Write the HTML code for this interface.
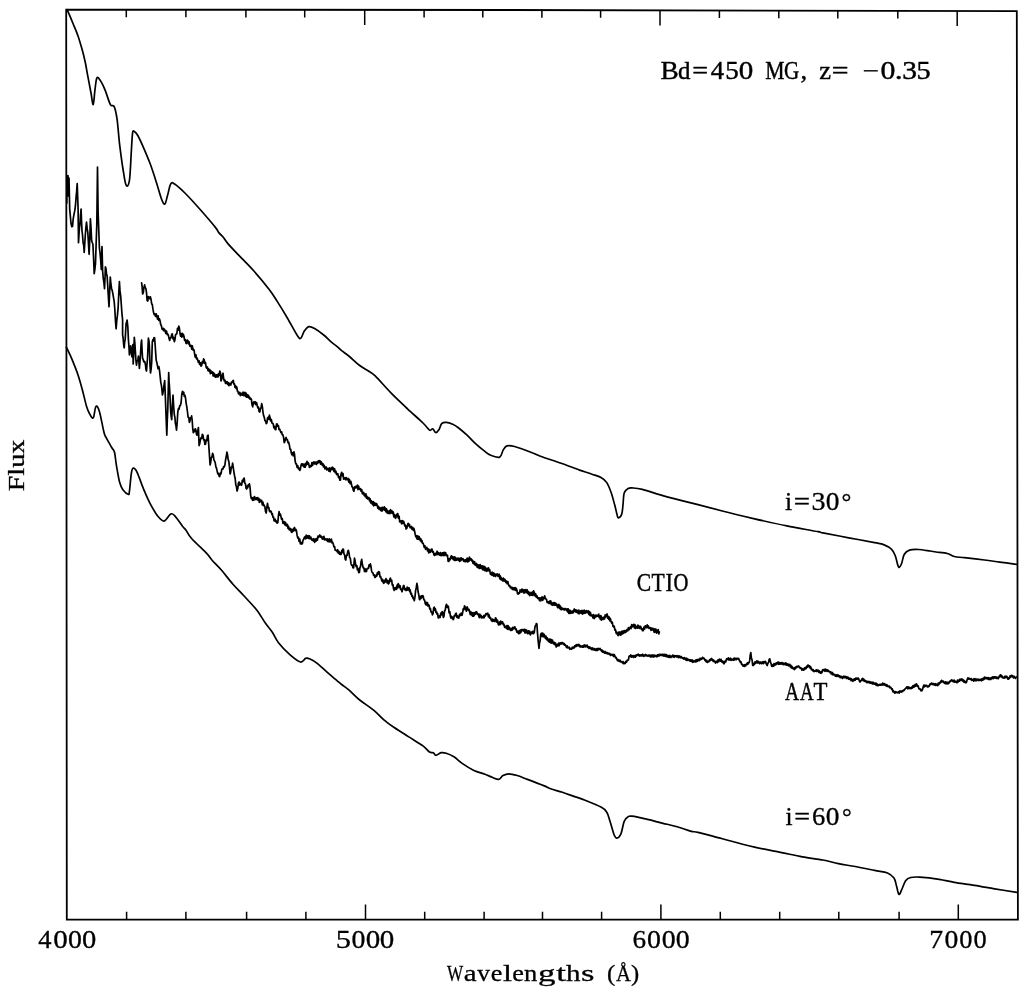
<!DOCTYPE html><html><head><meta charset="utf-8"><style>html,body{margin:0;padding:0;background:#fff;}svg{display:block;will-change:transform;}text{font-family:"Liberation Serif",serif;fill:#000;stroke:#000;}</style></head><body>
<svg width="1024" height="991" viewBox="0 0 1024 991">
<polygon points="66.2,9.6 508.0,10.0 1016.8,11.2 1017.9,919.5 66.8,919.6" fill="none" stroke="#000" stroke-width="1.8" stroke-linejoin="miter"/>
<path d="M126.6 919.6V911.8M185.9 919.6V911.8M246.6 919.6V911.8M305.9 919.6V911.8M365.5 919.6V904.4M424.7 919.6V911.8M484.1 919.6V911.8M542.5 919.6V911.8M601.6 919.6V911.8M660.9 919.6V904.4M720.3 919.6V911.8M779.7 919.6V911.8M838.8 919.6V911.8M899.1 919.6V911.8M958.3 919.6V904.4M126.3 9.7V17.3M185.9 9.7V17.3M245.9 9.8V17.4M304.7 9.8V17.4M364.7 9.9V24.9M424.1 9.9V17.5M482.8 10.0V17.6M541.9 10.1V17.7M600.6 10.2V17.8M660.0 10.4V25.4M719.4 10.5V18.1M778.8 10.6V18.2M837.8 10.8V18.4M897.8 10.9V18.5M957.2 11.1V26.1" stroke="#000" stroke-width="1.5" fill="none"/>
<path d="M67.1 9.7C68.1 11.9 71.1 18.8 72.9 23.2C74.7 27.6 76.6 31.9 78.1 36.2C79.6 40.5 80.8 44.8 82.0 49.1C83.2 53.4 84.2 57.5 85.2 62.0C86.2 66.5 86.8 71.0 87.8 76.2C88.8 81.4 90.1 88.3 91.0 93.0C91.9 97.7 92.5 105.0 93.2 104.6C93.9 104.2 94.3 94.8 94.9 90.4C95.5 86.0 96.0 79.8 96.8 78.1C97.6 76.4 98.6 78.0 100.0 80.1C101.4 82.1 103.5 86.3 105.2 90.4C106.9 94.5 108.9 101.9 110.4 104.6C111.9 107.3 113.1 104.1 114.2 106.6C115.3 109.1 116.2 113.0 117.1 119.4C118.0 125.8 118.7 137.0 119.7 145.2C120.7 153.4 121.8 161.8 122.9 168.5C124.0 175.2 125.0 183.2 126.1 185.2C127.2 187.2 128.5 186.3 129.4 180.7C130.3 175.1 130.8 159.7 131.3 151.7C131.8 143.7 132.1 136.2 132.6 132.9C133.1 129.6 133.6 131.2 134.5 131.6C135.4 132.0 136.3 132.8 137.8 135.5C139.3 138.2 141.6 143.2 143.6 147.8C145.6 152.4 147.8 157.5 150.0 163.3C152.2 169.1 154.6 176.7 156.5 182.7C158.4 188.7 160.3 195.9 161.7 199.5C163.1 203.1 163.9 204.7 164.9 204.0C165.9 203.3 166.5 198.9 167.5 195.6C168.5 192.3 169.5 185.9 170.7 184.0C171.9 182.1 172.2 182.5 174.6 184.0C177.0 185.5 180.6 188.7 184.9 193.0C189.2 197.3 195.4 204.1 200.4 209.8C205.4 215.5 212.1 223.2 215.2 227.1C218.3 230.9 217.7 231.3 219.0 232.9C220.3 234.5 221.4 235.0 222.9 236.8C224.4 238.6 225.5 240.9 228.1 243.9C230.7 246.9 234.1 250.4 238.4 254.9C242.7 259.4 248.7 265.2 253.9 271.0C259.1 276.8 265.5 284.6 269.4 289.7C273.3 294.8 274.2 296.6 277.2 301.4C280.2 306.1 284.1 312.4 287.5 318.2C290.9 324.0 295.5 333.0 297.8 336.3C300.1 339.6 300.0 338.7 301.1 337.8C302.2 336.9 303.0 333.0 304.3 331.1C305.6 329.2 307.1 327.0 308.8 326.6C310.5 326.2 312.1 327.1 314.6 328.5C317.1 329.9 320.9 332.7 323.7 335.0C326.5 337.3 329.1 340.2 331.4 342.1C333.6 344.0 335.5 345.2 337.2 346.6C338.9 348.0 339.6 349.1 341.6 350.7C343.6 352.3 346.4 354.0 349.4 356.5C352.4 359.0 356.5 363.0 359.7 365.5C362.9 368.0 366.2 369.6 368.8 371.3C371.4 373.0 371.6 372.3 375.2 375.9C378.8 379.4 385.3 387.1 390.7 392.6C396.1 398.1 402.1 403.7 407.5 408.8C412.9 413.9 419.3 419.4 423.0 423.0C426.7 426.6 427.9 429.1 429.5 430.1C431.1 431.1 431.6 428.4 432.7 428.8C433.8 429.2 434.8 432.6 435.9 432.7C437.0 432.8 438.1 431.0 439.1 429.5C440.1 428.0 440.5 424.8 441.7 423.6C442.9 422.4 444.4 422.3 446.2 422.4C448.0 422.5 450.7 423.4 452.7 424.3C454.7 425.2 455.6 425.7 458.0 427.5C460.4 429.3 463.8 432.2 466.8 434.9C469.8 437.6 473.0 441.3 475.8 443.9C478.6 446.5 481.1 448.5 483.6 450.4C486.1 452.3 488.0 454.2 490.7 455.3C493.4 456.4 497.6 457.9 499.7 457.1C501.8 456.3 501.8 452.3 503.0 450.4C504.2 448.5 504.9 446.5 506.8 445.9C508.7 445.2 510.3 445.3 514.6 446.5C518.9 447.7 528.4 451.4 532.7 453.0C537.0 454.6 535.7 454.5 540.4 456.2C545.1 457.9 554.8 461.1 561.1 463.3C567.4 465.5 574.8 468.3 578.0 469.5C581.2 470.7 578.0 469.6 580.3 470.4C582.6 471.2 588.5 473.0 592.0 474.2C595.5 475.4 598.5 476.1 601.0 477.5C603.5 478.9 605.1 480.0 606.8 482.6C608.5 485.2 610.0 489.3 611.3 493.0C612.6 496.7 613.6 501.0 614.6 504.6C615.6 508.2 616.5 512.7 617.1 514.9C617.7 517.1 617.6 518.0 618.4 517.9C619.2 517.8 620.9 516.5 621.7 514.3C622.5 512.1 622.6 508.2 623.0 504.6C623.4 501.1 623.4 495.7 624.2 493.0C625.1 490.3 626.6 489.2 628.1 488.4C629.6 487.6 630.9 487.9 633.3 488.0C635.7 488.1 637.8 488.2 642.3 489.3C646.8 490.4 654.1 493.1 660.4 494.9C666.6 496.7 673.5 498.5 679.8 500.1C686.1 501.7 690.9 502.8 698.0 504.6C705.1 506.4 712.9 508.6 722.3 511.0C731.7 513.4 743.8 516.3 754.6 518.8C765.4 521.3 776.3 523.8 786.9 525.9C797.5 528.0 812.0 530.5 818.0 531.7C824.0 532.9 817.8 531.9 822.9 532.9C828.0 533.9 840.1 536.2 848.7 537.8C857.3 539.4 868.8 541.5 874.6 542.6C880.4 543.7 880.8 543.5 883.6 544.6C886.4 545.7 889.5 547.3 891.4 549.1C893.3 550.9 894.1 552.8 895.2 555.5C896.3 558.2 897.1 563.2 897.8 565.2C898.5 567.2 898.9 567.5 899.5 567.2C900.1 566.9 900.9 565.5 901.7 563.3C902.5 561.1 903.0 556.4 904.3 554.2C905.6 552.0 907.1 550.9 909.5 550.1C911.9 549.3 915.1 549.4 918.5 549.5C921.9 549.6 927.2 550.6 930.1 551.0C933.0 551.4 933.2 551.6 936.1 552.0C939.0 552.4 944.2 552.8 947.2 553.5C950.2 554.2 951.4 555.8 954.3 556.5C957.2 557.2 959.4 557.1 964.4 557.7C969.4 558.3 978.6 559.3 984.5 560.0C990.4 560.7 994.4 561.4 999.7 562.1C1005.0 562.8 1013.5 563.9 1016.3 564.3" fill="none" stroke="#000" stroke-width="1.7" stroke-linejoin="round" stroke-linecap="round"/>
<path d="M66.5 347.4C67.3 349.2 69.7 353.8 71.6 358.4C73.5 363.0 76.3 369.8 78.1 375.2C79.9 380.6 81.2 385.5 82.6 390.7C84.0 395.9 85.3 402.3 86.5 406.2C87.7 410.1 88.6 412.1 89.7 414.0C90.8 415.9 92.3 419.1 93.3 417.8C94.3 416.6 94.9 407.6 95.9 406.5C96.9 405.4 98.1 407.1 99.4 411.4C100.7 415.6 102.8 427.7 103.9 432.0C105.0 436.3 104.6 434.6 105.9 437.2C107.2 439.8 110.3 445.0 111.7 447.5C113.1 450.0 113.7 449.2 114.5 452.3C115.3 455.4 115.6 460.8 116.5 465.8C117.4 470.9 118.6 478.6 119.7 482.6C120.8 486.6 121.5 487.8 122.9 489.7C124.3 491.6 127.0 493.9 128.1 494.2C129.2 494.5 128.9 495.1 129.4 491.7C129.9 488.3 130.7 477.5 131.3 473.6C131.9 469.7 132.2 468.4 133.2 468.2C134.2 468.0 135.4 468.8 137.1 472.3C138.8 475.8 141.4 483.9 143.6 489.1C145.8 494.3 147.6 498.8 150.0 503.3C152.4 507.8 155.4 513.2 157.8 516.2C160.2 519.2 162.0 521.5 164.2 521.1C166.3 520.7 169.0 514.9 170.7 514.0C172.4 513.1 172.7 513.6 174.6 515.6C176.5 517.6 180.4 523.4 182.3 525.9C184.2 528.4 184.7 528.3 186.2 530.4C187.7 532.5 187.9 534.3 191.4 538.2C194.9 542.1 203.5 550.1 206.9 553.7C210.3 557.3 209.5 557.2 211.9 560.0C214.3 562.8 218.1 566.2 221.6 570.3C225.1 574.4 229.5 580.3 233.2 584.5C236.9 588.7 239.7 591.3 243.6 595.5C247.5 599.7 252.8 605.1 256.5 609.7C260.1 614.3 262.9 619.6 265.5 623.3C268.1 627.0 269.8 628.5 272.0 631.7C274.2 634.9 275.5 638.8 278.5 642.7C281.5 646.6 286.5 651.7 290.1 654.9C293.8 658.1 297.8 661.4 300.4 662.0C303.0 662.6 304.1 658.9 305.6 658.4C307.1 657.9 307.6 658.0 309.5 658.8C311.4 659.6 314.0 660.8 317.2 663.3C320.4 665.8 325.5 670.8 328.8 673.7C332.1 676.6 335.1 679.0 337.2 680.8C339.3 682.6 339.6 682.9 341.6 684.5C343.6 686.1 346.4 687.8 349.4 690.4C352.4 693.0 355.6 696.7 359.7 700.0C363.8 703.3 369.8 707.0 373.9 710.4C378.0 713.8 380.8 717.2 384.2 720.1C387.6 723.0 390.5 725.0 394.6 727.8C398.7 730.6 404.1 733.9 408.8 736.9C413.5 739.9 419.6 743.4 423.0 745.9C426.4 748.4 427.8 750.9 429.5 752.0C431.2 753.1 432.2 752.2 433.3 752.7C434.4 753.2 434.6 755.3 435.9 755.3C437.2 755.3 439.4 753.0 441.1 752.7C442.8 752.4 444.1 752.6 446.2 753.3C448.3 754.0 451.1 755.0 453.9 756.8C456.7 758.6 459.6 761.6 462.9 763.9C466.2 766.2 470.2 768.7 473.9 770.4C477.6 772.1 481.8 773.0 484.9 774.2C488.0 775.4 490.3 776.6 492.6 777.5C494.9 778.4 497.1 779.7 498.8 779.4C500.5 779.1 501.3 776.4 503.0 775.5C504.7 774.6 506.4 773.8 508.8 773.8C511.2 773.8 514.1 774.6 517.2 775.5C520.3 776.4 523.0 777.7 527.5 779.4C532.0 781.1 540.4 784.3 544.3 785.9C548.2 787.5 547.7 787.7 550.7 788.8C553.7 789.9 558.5 791.0 562.4 792.3C566.3 793.6 570.6 795.2 574.0 796.4C577.4 797.6 578.4 797.6 582.9 799.4C587.4 801.2 597.0 805.0 601.0 807.1C605.0 809.2 605.3 809.9 606.8 812.3C608.3 814.7 608.8 817.6 610.0 821.3C611.2 824.9 612.8 831.4 613.9 834.2C615.0 837.0 615.6 838.2 616.8 838.1C618.0 838.0 619.8 836.4 621.0 833.6C622.2 830.8 623.0 824.1 624.2 821.3C625.4 818.5 626.8 817.6 628.1 816.8C629.4 815.9 628.8 815.8 632.0 816.2C635.2 816.6 642.3 818.2 647.5 819.4C652.7 820.6 658.0 822.1 663.0 823.3C668.0 824.5 672.5 825.4 677.2 826.8C681.9 828.1 687.9 830.5 691.4 831.4C694.9 832.3 692.9 831.1 698.0 832.3C703.1 833.5 712.9 836.3 722.3 838.8C731.7 841.3 744.9 844.9 754.6 847.1C764.3 849.4 772.4 850.7 780.4 852.3C788.4 853.9 795.3 855.5 802.4 856.8C809.5 858.1 816.9 858.9 822.9 860.0C828.9 861.1 833.0 862.6 838.4 863.7C843.8 864.8 849.2 865.4 855.2 866.5C861.2 867.6 869.2 869.3 874.6 870.4C880.0 871.5 884.3 871.7 887.5 873.0C890.7 874.3 892.5 876.0 894.0 878.1C895.5 880.2 895.7 883.2 896.5 885.9C897.3 888.6 898.0 893.7 898.9 894.3C899.8 894.9 900.6 892.0 901.7 889.7C902.8 887.4 904.1 882.7 905.6 880.7C907.1 878.7 908.3 878.1 910.7 877.5C913.1 876.9 915.1 876.8 919.8 877.1C924.5 877.4 933.4 878.4 939.1 879.3C944.9 880.2 948.4 881.3 954.3 882.3C960.2 883.3 967.8 884.2 974.5 885.3C981.2 886.4 987.6 887.6 994.6 888.8C1001.6 890.0 1013.1 891.8 1016.8 892.4" fill="none" stroke="#000" stroke-width="1.7" stroke-linejoin="round" stroke-linecap="round"/>
<polyline points="66.8,203.0 67.0,176.0 67.6,196.0 68.0,175.5 68.6,196.0 69.0,178.0 69.3,192.3 69.7,209.1 70.3,215.6 71.0,223.3 71.8,226.7 72.5,226.5 73.2,218.8 74.0,214.3 74.8,210.6 75.5,205.2 76.1,196.8 76.6,191.9 77.2,183.5 78.1,209.1 78.5,242.7 79.0,234.2 79.4,228.5 80.0,223.7 80.5,215.0 81.1,209.1 81.5,220.5 82.0,231.0 82.5,234.6 83.1,242.8 83.7,245.4 84.2,252.4 84.7,244.8 85.3,235.4 85.8,228.5 86.5,222.0 87.2,228.7 87.8,232.3 88.4,242.5 89.1,254.3 89.8,238.5 90.4,218.8 91.0,227.6 91.6,240.1 92.2,242.5 92.9,244.0 93.6,258.4 94.2,273.7 94.8,269.8 95.5,263.3 96.2,242.0 96.8,224.6 97.5,167.0 98.1,211.7 98.8,230.8 99.4,247.8 100.0,252.6 100.7,260.3 101.3,269.4 102.0,246.5 102.6,270.7 103.2,277.8 103.9,282.3 104.5,288.7 105.0,278.5 105.4,266.8 106.0,268.7 106.5,274.0 107.1,275.8 107.7,285.4 108.4,297.2 109.0,306.8 109.7,291.2 110.3,277.1 110.9,284.0 111.6,288.7 112.2,290.4 112.9,293.9 113.6,298.2 114.2,301.7 114.8,309.0 115.5,321.1 116.1,328.8 116.8,320.5 117.4,315.7 118.1,308.1 118.8,292.9 119.4,281.6 120.0,290.9 120.7,296.1 121.3,304.2 121.9,313.0 122.6,320.0 122.6,334.9 123.1,337.6 123.7,345.0 124.2,347.8 124.7,341.7 125.2,339.4 126.1,323.2 126.6,322.7 127.1,320.0 127.8,326.5 128.4,339.4 129.0,347.1 129.4,354.9 130.1,348.6 130.7,345.8 131.3,352.8 132.0,356.8 132.4,349.8 132.9,344.5 133.2,363.9 133.8,352.0 134.3,337.4 134.9,343.7 135.5,353.6 136.0,361.2 136.5,365.2 137.1,361.0 137.8,360.5 138.4,356.2 138.9,361.8 139.4,368.4 140.1,360.5 140.7,351.0 141.1,343.8 141.6,340.0 142.1,350.5 142.6,358.8 143.1,359.0 143.7,361.7 144.2,361.3 144.8,361.7 145.5,365.2 146.0,369.6 146.5,371.0 147.0,363.9 147.5,358.8 147.9,349.6 148.4,338.1 148.9,340.7 149.4,345.8 150.0,365.2 150.5,373.0 151.1,369.1 151.7,362.0 152.3,342.0 152.9,339.7 153.4,340.9 154.0,337.7 154.6,337.8 155.2,345.8 155.7,353.4 156.2,360.1 156.8,362.5 157.5,365.9 158.1,368.7 158.8,366.5 159.4,369.7 160.2,376.8 160.8,382.6 161.5,385.8 161.9,389.3 162.4,394.9 162.9,393.3 163.4,390.4 164.1,384.3 164.7,380.7 165.3,395.5 166.1,417.3 166.8,435.2 167.3,420.0 167.8,408.1 168.7,372.6 169.1,381.9 169.6,388.7 170.1,398.6 170.7,412.0 171.2,416.6 171.7,419.7 172.3,406.2 173.0,395.2 173.7,406.8 174.3,414.6 174.9,417.2 175.4,423.5 175.9,425.4 176.5,430.1 177.2,422.3 177.8,412.0 178.5,408.4 179.1,409.2 179.8,405.5 180.4,405.5 181.1,402.5 181.8,394.2 182.5,391.3 183.1,394.2 183.7,392.2 184.3,396.4 184.9,395.2 185.5,397.8 186.2,403.6 186.8,406.8 187.5,412.0 188.1,417.2 188.8,417.6 189.4,422.3 189.9,421.4 190.5,417.9 191.1,418.7 191.6,415.9 192.2,420.5 192.7,428.1 193.3,432.7 193.9,430.1 194.6,431.5 195.2,428.8 195.8,429.6 196.5,434.2 197.1,435.2 197.8,430.9 198.4,427.5 199.1,445.6 199.7,443.8 200.4,439.7 201.0,437.8 201.7,438.3 202.3,434.3 203.0,435.2 203.6,439.9 204.3,439.6 204.9,444.3 205.5,444.2 206.2,439.9 206.8,440.6 207.5,435.5 208.1,435.2 208.8,445.7 209.4,454.6 210.1,465.0 210.7,462.5 211.3,457.5 212.0,457.0 212.6,453.3 213.3,455.3 213.9,459.9 214.6,461.1 215.2,462.7 215.9,466.8 216.5,468.2 217.2,471.4 217.8,473.9 218.4,473.3 219.1,476.1 219.7,476.6 220.3,473.1 221.0,473.8 221.7,469.8 222.3,468.8 223.0,469.0 223.6,466.5 224.2,467.0 224.9,465.0 225.6,459.6 226.2,457.0 226.9,452.0 227.5,454.5 228.2,459.9 228.8,461.1 229.4,466.3 230.1,474.0 230.7,472.0 231.3,467.2 232.0,467.6 232.6,463.2 233.2,466.9 233.9,471.8 234.5,475.5 235.2,478.7 235.8,484.8 236.4,486.5 237.1,491.0 237.8,488.6 238.4,483.2 239.1,482.0 239.7,485.1 240.3,483.4 241.0,484.5 241.6,485.2 242.3,480.3 242.9,481.9 243.6,478.6 244.2,478.1 244.8,483.0 245.5,483.9 246.1,488.4 246.7,489.0 247.2,486.0 247.8,487.6 248.3,484.9 248.8,485.5 249.4,483.9 250.0,486.9 250.7,495.6 251.3,498.7 252.0,497.7 252.6,500.3 253.2,497.5 253.9,500.2 254.5,496.6 255.2,498.1 255.8,499.5 256.4,497.9 256.9,499.5 257.5,497.6 258.1,500.2 258.7,498.3 259.3,502.3 259.8,499.3 260.4,501.7 261.0,501.3 261.6,500.3 262.3,504.8 262.9,502.1 263.6,505.6 264.2,505.2 264.9,506.8 265.5,511.4 266.2,513.0 266.9,507.4 267.5,503.3 268.1,507.3 268.8,507.3 269.4,511.0 270.0,511.9 270.7,510.9 271.3,511.7 271.9,514.7 272.4,513.8 273.0,517.4 273.5,516.8 274.1,521.0 274.6,520.7 275.2,519.2 275.9,521.9 276.5,521.1 277.2,523.1 277.8,522.6 278.5,515.2 279.1,511.7 279.7,515.1 280.4,514.2 281.0,516.8 281.6,519.2 282.3,518.6 283.0,523.4 283.6,523.3 284.2,521.7 284.9,524.8 285.5,522.3 286.2,525.8 286.8,524.6 287.4,524.3 288.0,528.3 288.5,526.4 289.1,529.6 289.7,528.3 290.3,530.4 290.8,528.7 291.4,532.2 292.0,532.3 292.6,529.4 293.3,531.1 293.9,528.5 294.5,527.4 295.2,530.7 295.9,529.4 296.5,531.0 297.1,535.4 297.8,538.1 298.4,537.3 299.1,541.4 299.8,539.1 300.4,543.9 301.1,542.4 301.7,544.0 302.4,543.7 303.0,540.2 303.6,539.6 304.3,537.5 304.9,536.7 305.6,538.8 306.2,535.1 306.9,538.2 307.5,536.2 308.1,535.7 308.8,538.5 309.4,535.8 310.1,538.9 310.8,537.1 311.4,538.8 312.0,540.0 312.7,539.1 313.3,540.9 313.9,538.7 314.6,542.3 315.2,541.4 315.8,538.8 316.3,541.0 316.9,538.3 317.4,540.1 318.0,536.0 318.5,537.4 319.1,536.2 319.8,534.9 320.4,537.1 321.1,536.1 321.7,536.9 322.3,539.1 322.8,537.2 323.4,538.8 323.9,536.3 324.5,539.8 325.0,538.5 325.6,539.4 326.2,540.2 326.9,538.8 327.5,541.3 328.1,539.2 328.8,541.7 329.4,538.9 330.1,542.0 330.7,540.1 331.4,539.2 332.0,542.9 332.6,542.2 333.3,544.0 333.9,546.8 334.6,546.6 335.2,550.2 335.9,550.4 336.5,550.4 337.1,551.7 337.6,549.7 338.2,553.0 338.8,551.2 339.4,554.1 339.9,552.5 340.5,554.4 341.1,554.3 341.7,550.7 342.2,552.7 342.8,549.0 343.4,549.2 344.0,554.0 344.6,554.9 345.2,559.2 345.8,560.0 346.5,555.0 347.1,555.3 347.8,551.0 348.4,550.4 349.0,552.9 349.6,557.4 350.3,558.2 351.0,563.4 351.6,565.2 352.3,565.2 352.9,567.7 353.6,567.8 354.5,558.1 355.0,560.4 355.6,564.5 356.1,566.5 356.8,565.7 357.4,569.9 358.1,568.5 358.7,572.6 359.4,572.3 360.0,567.2 360.5,566.9 361.1,561.7 361.7,559.4 362.4,564.5 363.2,567.8 363.9,567.8 364.5,571.5 365.1,568.8 365.8,571.6 366.5,571.4 367.1,568.5 367.8,568.4 368.4,568.5 369.1,564.8 369.8,566.4 370.4,563.9 371.0,566.7 371.6,571.0 372.3,572.7 372.9,572.8 373.6,575.4 374.2,574.9 374.9,577.5 375.5,577.0 376.2,575.0 376.8,576.0 377.4,572.7 378.1,574.3 378.7,571.6 379.4,572.2 380.0,577.0 380.6,576.4 381.3,578.8 381.9,581.1 382.6,579.4 383.2,582.7 383.9,583.3 384.5,580.4 385.2,582.0 385.9,578.7 386.5,579.4 387.1,582.9 387.8,580.7 388.4,583.9 389.1,582.9 389.7,579.5 390.4,578.1 391.0,581.4 391.7,580.3 392.3,585.1 392.9,584.5 393.6,589.0 394.2,590.4 394.8,587.8 395.4,589.4 395.9,587.3 396.5,589.3 397.1,585.1 397.6,587.9 398.2,583.6 398.8,584.6 399.4,587.6 400.1,585.9 400.7,589.5 401.4,589.2 402.0,591.7 402.6,589.5 403.3,585.9 403.9,585.5 404.6,589.6 405.2,588.5 405.9,590.4 406.5,590.3 407.2,587.2 407.9,590.1 408.5,587.8 409.1,587.8 409.7,591.6 410.2,589.9 410.8,594.1 411.4,593.2 412.0,596.5 412.6,596.0 413.1,598.6 413.7,598.0 414.3,600.7 414.9,597.4 415.6,590.7 416.2,588.1 416.9,583.3 417.5,586.4 418.1,592.0 418.8,594.8 419.4,599.4 419.9,599.6 420.5,596.4 421.0,598.5 421.6,595.8 422.1,597.5 422.7,595.5 423.3,596.7 423.9,599.8 424.6,600.1 425.2,603.3 425.8,604.7 426.3,602.3 426.9,605.1 427.4,602.7 427.9,606.0 428.5,604.6 429.1,605.5 429.8,609.2 430.4,608.6 431.1,612.2 431.8,612.1 432.4,614.9 433.0,613.6 433.7,607.9 434.3,607.2 434.9,610.4 435.4,608.9 436.0,612.5 436.6,611.9 437.1,614.2 437.7,613.7 438.2,618.0 438.8,617.5 439.4,616.0 440.1,617.4 440.8,613.1 441.4,614.9 442.1,611.7 442.7,612.3 443.3,617.5 443.9,616.4 444.6,610.7 445.2,610.3 445.9,605.9 446.5,604.3 447.2,607.3 447.8,605.9 448.4,606.7 449.1,612.9 449.8,611.7 450.4,616.2 450.9,617.9 451.5,616.4 452.0,618.3 452.6,617.2 453.1,619.7 453.7,618.8 454.3,615.5 455.0,615.8 455.6,613.6 456.2,613.2 456.9,617.4 457.6,616.0 458.2,618.1 458.8,618.0 459.4,614.8 460.0,614.2 460.6,615.5 461.3,613.1 462.0,615.3 462.6,613.0 463.2,608.9 463.9,609.7 464.5,605.9 465.1,607.0 465.8,609.7 466.4,611.1 467.1,606.9 467.7,608.4 468.4,610.3 469.0,609.4 469.7,612.3 470.3,614.4 470.8,611.6 471.4,615.0 471.9,612.8 472.5,616.2 473.1,612.7 473.6,616.1 474.2,615.5 474.8,612.5 475.5,614.1 476.1,611.7 476.8,612.0 477.4,614.5 478.1,613.9 478.7,615.5 479.3,617.6 479.8,614.1 480.4,616.9 480.9,615.3 481.5,618.0 482.0,616.6 482.6,617.5 483.2,617.9 483.7,615.7 484.3,617.6 484.9,615.1 485.4,615.8 486.0,613.5 486.5,614.5 487.1,613.6 487.8,613.2 488.4,616.9 489.1,614.8 489.7,618.2 490.4,617.6 491.0,619.4 491.6,620.9 492.3,619.1 492.9,621.5 493.6,619.6 494.2,620.7 494.9,621.6 495.5,617.8 496.2,618.8 496.8,622.2 497.5,620.2 498.1,623.9 498.8,624.9 499.4,622.1 500.1,624.7 500.7,621.0 501.4,623.6 502.0,622.0 502.6,621.9 503.3,624.7 503.9,624.1 504.6,627.3 505.2,626.5 505.8,626.1 506.3,628.4 506.9,625.7 507.4,629.1 508.0,625.7 508.6,629.4 509.1,627.0 509.7,627.8 510.4,630.3 511.0,630.4 511.6,628.4 512.3,630.0 512.9,627.3 513.6,628.8 514.2,627.2 514.9,626.9 515.5,629.5 516.2,629.0 516.8,632.2 517.5,631.1 518.1,633.0 518.7,633.6 519.2,630.5 519.8,633.3 520.4,630.2 520.9,632.4 521.5,629.5 522.0,630.8 522.6,629.7 523.2,629.6 523.8,631.2 524.3,629.3 524.9,632.8 525.5,629.6 526.1,632.9 526.6,630.0 527.2,632.3 527.8,633.6 528.5,630.8 529.1,633.7 529.7,631.2 530.4,634.9 531.0,633.0 531.7,632.0 532.3,633.4 533.0,631.2 533.6,633.7 534.3,632.3 534.8,628.1 535.2,625.9 535.8,625.6 536.3,623.5 536.9,623.9 537.5,633.1 538.1,640.1 539.0,648.5 539.6,642.7 540.1,640.8 540.7,634.3 541.4,633.2 542.0,636.3 542.7,633.1 543.3,636.8 544.0,634.2 544.6,635.6 545.2,638.1 545.9,636.0 546.5,639.7 547.2,637.8 547.8,640.1 548.4,641.4 549.0,639.1 549.5,642.1 550.1,639.0 550.7,642.8 551.3,639.6 551.8,643.2 552.4,640.1 553.0,642.0 553.6,644.0 554.3,642.3 555.0,644.8 555.6,643.1 556.2,647.0 556.9,645.9 557.5,644.3 558.0,645.8 558.6,643.1 559.2,645.7 559.7,643.0 560.3,644.1 560.9,642.7 561.4,644.0 562.0,642.7 562.6,642.6 563.3,644.3 564.0,643.4 564.6,645.1 565.2,644.6 565.9,645.9 566.5,647.5 567.2,645.9 567.9,648.0 568.5,647.8 569.1,647.2 569.8,649.3 570.5,648.3 571.1,649.1 571.7,649.1 572.3,647.2 572.8,648.4 573.4,647.2 574.0,648.1 574.6,645.9 575.2,646.8 575.8,645.1 576.3,646.4 576.9,644.6 577.5,644.6 578.1,645.8 578.8,644.3 579.5,646.6 580.1,645.4 580.8,647.0 581.4,646.5 582.0,645.9 582.5,647.1 583.1,645.8 583.7,647.1 584.2,644.9 584.8,646.5 585.4,645.3 585.9,646.9 586.5,645.6 587.1,645.1 587.8,647.5 588.4,646.6 589.0,648.4 589.7,646.8 590.3,648.1 590.9,648.9 591.5,647.9 592.0,649.7 592.6,648.0 593.2,649.6 593.8,648.6 594.3,650.1 594.9,648.7 595.5,650.1 596.1,650.5 596.8,648.6 597.5,650.4 598.1,648.4 598.8,649.5 599.4,648.8 600.0,648.5 600.5,650.0 601.1,649.6 601.6,651.3 602.2,650.2 602.8,652.2 603.3,651.1 603.9,652.0 604.5,653.1 605.1,651.5 605.7,653.2 606.3,652.5 606.9,653.7 607.5,652.6 608.0,653.9 608.6,653.3 609.2,654.2 609.8,653.4 610.4,655.5 611.0,654.6 611.6,654.4 612.3,655.3 613.0,654.3 613.6,656.5 614.2,654.5 614.9,655.9 615.5,657.8 616.2,657.5 616.8,659.1 617.4,660.5 617.9,659.4 618.5,661.0 619.0,660.1 619.6,661.3 620.2,660.3 620.7,662.0 621.3,661.7 621.8,661.6 622.4,662.8 623.0,661.6 623.5,663.7 624.0,662.5 624.6,663.6 625.2,663.4 625.9,661.4 626.5,662.2 627.2,660.2 627.8,660.4 628.4,660.0 629.1,656.2 629.7,655.9 630.3,656.3 630.8,655.0 631.4,657.2 632.0,655.7 632.5,656.9 633.1,655.6 633.6,657.5 634.2,656.5 634.9,655.6 635.5,657.1 636.2,654.8 636.8,655.8 637.5,655.2 638.1,654.1 638.7,655.5 639.2,654.8 639.8,656.1 640.4,654.9 641.0,655.8 641.6,654.8 642.1,655.9 642.7,654.2 643.3,655.2 643.9,656.4 644.5,655.1 645.0,655.7 645.6,654.4 646.2,655.8 646.8,655.1 647.4,656.0 648.0,655.4 648.5,656.0 649.1,655.0 649.7,655.9 650.3,656.9 650.9,655.0 651.5,657.0 652.1,655.0 652.7,656.5 653.2,655.1 653.8,657.1 654.4,655.0 655.0,656.4 655.6,655.6 656.2,655.9 656.8,656.9 657.4,654.8 657.9,656.1 658.5,654.6 659.1,656.0 659.7,654.4 660.3,655.3 660.8,654.3 661.4,655.4 662.0,654.6 662.6,654.3 663.2,656.0 663.8,654.4 664.4,656.0 665.0,654.4 665.6,656.4 666.2,654.6 666.8,656.6 667.4,655.3 668.0,657.1 668.6,655.7 669.2,657.4 669.8,655.3 670.4,656.5 671.0,657.5 671.6,656.1 672.1,656.6 672.7,655.2 673.3,656.9 673.9,655.5 674.4,657.2 675.0,655.7 675.6,655.9 676.2,656.8 676.8,655.6 677.3,656.8 677.9,656.0 678.5,657.7 679.1,655.8 679.7,657.4 680.3,656.5 680.8,657.8 681.4,656.6 682.0,657.8 682.6,658.3 683.2,657.9 683.8,659.0 684.4,657.6 685.0,659.2 685.5,658.5 686.1,660.1 686.7,658.2 687.3,660.5 687.9,659.1 688.5,659.8 689.1,660.6 689.7,659.7 690.2,661.1 690.8,660.0 691.4,661.3 692.0,659.9 692.6,662.3 693.1,660.5 693.7,661.9 694.3,661.7 694.9,660.6 695.4,661.9 696.0,659.8 696.5,661.7 697.1,659.5 697.7,661.2 698.2,659.3 698.8,659.8 699.4,660.6 700.1,658.2 700.7,659.5 701.3,658.3 701.9,659.0 702.6,657.3 703.2,657.8 703.8,658.7 704.3,658.4 704.9,660.3 705.5,659.8 706.0,661.6 706.6,660.3 707.1,662.3 707.7,662.3 708.4,661.1 709.0,661.5 709.7,659.6 710.3,660.5 711.0,658.8 711.6,658.5 712.1,660.3 712.7,659.6 713.3,661.5 713.8,660.2 714.4,661.7 715.0,661.2 715.5,663.1 716.1,662.3 716.8,661.2 717.4,662.5 718.0,659.9 718.7,661.7 719.4,659.1 720.0,659.7 720.6,661.2 721.1,659.4 721.7,661.9 722.2,661.0 722.8,662.5 723.4,661.4 723.9,663.8 724.5,663.0 725.1,661.0 725.8,661.8 726.5,658.9 727.1,658.8 727.7,659.5 728.3,657.9 728.8,660.0 729.4,658.6 730.0,660.0 730.6,658.2 731.1,660.3 731.7,659.2 732.3,659.7 732.9,660.0 733.5,658.5 734.0,660.1 734.6,658.1 735.2,659.5 735.8,658.3 736.4,659.7 736.9,658.4 737.5,658.9 738.1,658.4 738.7,658.5 739.3,660.6 739.8,660.7 740.4,662.4 741.0,661.9 741.6,664.3 742.1,664.2 742.7,665.6 743.3,666.2 743.9,664.8 744.5,666.4 745.0,664.7 745.6,665.9 746.2,664.2 746.8,664.7 747.4,662.7 747.9,664.3 748.5,662.5 749.1,662.7 749.7,660.4 750.2,655.2 750.8,652.6 751.4,658.0 752.1,660.1 752.7,665.5 753.3,665.5 753.9,663.3 754.5,664.4 755.0,661.8 755.6,663.3 756.2,661.7 756.8,660.9 757.3,663.0 757.9,661.0 758.5,662.8 759.0,662.1 759.6,663.6 760.1,661.9 760.7,663.0 761.3,663.7 761.9,662.1 762.4,663.4 763.0,661.6 763.6,663.6 764.2,661.7 764.7,662.7 765.3,661.3 765.9,662.3 766.5,664.6 767.2,665.5 767.8,663.4 768.5,662.7 769.1,659.6 769.7,658.8 770.4,661.5 771.0,663.4 771.7,666.2 772.3,666.4 772.9,664.5 773.4,666.2 774.0,663.7 774.6,665.4 775.2,663.5 775.8,664.7 776.3,662.9 776.9,664.1 777.5,663.0 778.1,662.0 778.7,664.3 779.3,662.5 779.9,664.1 780.5,662.7 781.0,663.9 781.6,662.7 782.2,664.2 782.8,662.7 783.4,664.7 784.0,663.6 784.6,663.3 785.1,664.7 785.7,662.8 786.3,665.1 786.8,663.5 787.4,665.1 788.0,664.0 788.5,665.9 789.1,664.9 789.7,664.3 790.2,666.8 790.8,665.3 791.4,668.0 791.9,666.3 792.5,668.4 793.0,667.6 793.6,668.8 794.2,669.5 794.8,667.6 795.3,668.8 795.9,666.8 796.5,667.7 797.1,666.2 797.6,666.9 798.2,666.2 798.8,666.1 799.5,667.8 800.1,667.4 800.8,668.6 801.4,668.1 802.0,670.2 802.7,668.8 803.3,670.1 803.9,670.1 804.5,667.9 805.0,669.1 805.6,667.3 806.2,668.5 806.8,666.1 807.3,667.2 807.9,665.0 808.5,665.5 809.1,666.9 809.7,665.9 810.2,668.2 810.8,666.9 811.4,669.7 812.0,669.1 812.5,670.5 813.1,669.6 813.7,671.4 814.3,671.6 815.0,670.7 815.6,671.2 816.2,669.8 816.9,671.5 817.5,670.1 818.2,670.1 818.8,672.3 819.5,671.0 820.1,673.0 820.8,673.3 821.4,671.6 822.0,672.7 822.6,669.8 823.2,669.7 823.8,670.6 824.4,669.4 824.9,671.3 825.5,669.1 826.1,670.8 826.7,669.8 827.2,671.4 827.8,670.0 828.4,671.0 829.0,671.7 829.6,671.3 830.1,672.7 830.7,671.9 831.3,674.0 831.9,672.3 832.5,674.7 833.0,673.2 833.6,674.8 834.2,674.9 834.8,674.5 835.4,676.1 836.0,674.9 836.6,676.3 837.2,674.7 837.8,676.3 838.4,675.1 839.0,676.6 839.6,675.8 840.2,677.7 840.8,676.4 841.4,677.7 842.0,676.5 842.6,678.4 843.2,677.5 843.9,676.1 844.5,677.6 845.2,676.8 845.8,676.4 846.4,678.5 847.0,676.9 847.6,678.4 848.2,677.3 848.8,679.2 849.3,678.2 849.9,679.4 850.5,678.3 851.1,680.7 851.7,679.0 852.3,680.4 852.9,681.3 853.5,679.4 854.0,680.5 854.6,678.8 855.2,680.2 855.8,678.0 856.4,679.2 856.9,678.1 857.5,679.2 858.1,678.1 858.7,678.8 859.4,681.1 860.0,682.0 860.7,680.5 861.3,680.6 862.0,678.8 862.6,678.3 863.1,680.7 863.7,679.1 864.2,681.1 864.8,680.2 865.4,681.6 865.9,680.8 866.5,681.7 867.1,682.7 867.7,681.4 868.2,682.4 868.8,681.5 869.4,682.9 870.0,681.7 870.5,683.2 871.1,682.1 871.7,682.6 872.3,683.9 872.9,682.1 873.5,684.0 874.1,683.2 874.7,684.2 875.2,683.0 875.8,685.0 876.4,683.3 877.0,685.6 877.6,684.2 878.2,685.7 878.8,685.2 879.4,684.5 879.9,685.2 880.5,684.3 881.0,685.0 881.6,684.1 882.2,685.0 882.7,683.1 883.3,683.9 883.9,685.0 884.5,683.6 885.1,685.2 885.7,684.6 886.3,686.1 886.8,684.5 887.4,686.5 888.0,685.9 888.6,686.6 889.2,686.1 889.8,687.8 890.4,687.2 891.0,687.7 891.7,689.4 892.3,688.9 893.0,691.8 893.6,690.9 894.3,692.3 894.9,693.2 895.6,691.7 896.2,692.7 896.9,692.0 897.5,692.6 898.1,692.8 898.7,691.7 899.3,693.0 899.9,690.9 900.5,691.9 901.0,691.1 901.6,692.1 902.2,690.7 902.8,691.3 903.4,690.1 904.0,690.4 904.6,689.9 905.2,688.5 905.9,688.4 906.5,687.2 907.1,686.8 907.8,688.8 908.5,687.0 909.1,688.5 909.8,687.4 910.4,688.5 911.0,688.6 911.6,687.1 912.2,688.0 912.8,685.9 913.4,687.3 913.9,685.4 914.5,686.9 915.1,684.6 915.7,686.1 916.3,683.9 916.9,684.6 917.5,686.4 918.2,686.0 918.9,688.8 919.5,689.1 920.1,688.8 920.8,690.7 921.4,689.6 922.0,690.8 922.6,689.3 923.3,686.5 923.8,685.2 924.4,686.9 924.9,685.1 925.5,686.0 926.0,685.5 926.7,685.3 927.3,686.9 928.0,687.0 928.6,685.9 929.2,686.3 929.9,684.1 930.5,684.7 931.1,683.5 931.7,683.1 932.3,684.5 932.9,683.3 933.5,684.7 934.1,683.9 934.7,685.0 935.3,683.7 935.9,685.5 936.5,684.1 937.1,685.0 937.7,685.6 938.2,683.2 938.8,684.6 939.4,683.0 939.9,683.3 940.5,681.4 941.1,682.3 941.6,680.3 942.2,681.0 942.9,682.0 943.5,681.2 944.2,683.0 944.8,683.4 945.5,681.8 946.1,683.9 946.7,682.2 947.3,683.8 948.0,682.2 948.6,683.6 949.2,682.5 949.9,681.1 950.5,681.5 951.2,680.0 951.8,679.9 952.5,681.3 953.1,680.3 953.8,681.9 954.4,680.2 955.0,682.3 955.7,681.5 956.3,682.0 956.9,682.8 957.5,680.2 958.2,681.9 958.8,680.1 959.4,681.2 960.0,679.0 960.7,680.4 961.3,679.4 961.9,678.8 962.4,680.9 963.0,679.8 963.6,681.9 964.1,680.5 964.7,682.3 965.3,681.5 965.8,682.8 966.4,682.5 967.1,679.9 967.9,677.9 968.5,679.1 969.0,678.2 969.6,679.0 970.1,678.6 970.7,679.6 971.3,678.7 971.8,680.3 972.4,680.0 973.0,679.4 973.5,681.1 974.1,678.7 974.7,680.6 975.2,678.7 975.8,680.6 976.4,679.1 976.9,680.5 977.5,679.4 978.1,679.1 978.7,680.5 979.3,679.4 979.9,680.5 980.5,680.3 981.1,679.0 981.6,680.8 982.2,678.9 982.8,680.2 983.3,678.2 983.9,679.4 984.5,677.0 985.0,678.9 985.6,677.6 986.2,677.5 986.7,678.7 987.3,677.7 987.9,679.0 988.5,677.7 989.0,679.6 989.6,679.2 990.2,678.0 990.9,679.5 991.5,677.6 992.1,678.3 992.7,676.9 993.4,678.6 994.0,676.8 994.6,676.9 995.2,678.1 995.8,676.8 996.5,678.4 997.1,677.2 997.7,678.4 998.3,678.7 999.0,676.4 999.6,676.9 1000.2,674.9 1000.8,674.8 1001.4,676.9 1002.0,676.0 1002.5,677.8 1003.1,677.1 1003.7,677.9 1004.3,678.1 1005.0,676.0 1005.6,677.6 1006.2,676.4 1006.9,676.3 1007.6,678.9 1008.3,679.2 1008.9,677.7 1009.5,678.4 1010.1,675.9 1010.7,677.1 1011.3,675.4 1011.9,675.4 1012.5,676.9 1013.0,675.9 1013.6,677.9 1014.2,676.4 1014.8,677.9 1015.5,678.4 1016.3,676.9" fill="none" stroke="#000" stroke-width="1.7" stroke-linejoin="round" stroke-linecap="round"/>
<polyline points="141.6,282.9 142.1,286.3 142.6,293.9 143.3,293.0 143.9,287.4 144.6,284.9 145.2,287.4 145.9,288.7 146.5,292.6 147.1,300.4 147.8,301.0 148.4,296.6 149.1,297.1 149.7,298.7 150.4,296.9 151.0,299.1 151.7,304.0 152.3,304.5 153.0,309.4 153.6,312.7 154.2,314.6 154.8,313.7 155.5,316.4 156.2,313.9 156.8,315.9 157.5,319.1 158.1,315.8 158.8,320.4 159.4,318.8 160.1,321.0 160.7,324.5 161.4,325.7 162.0,328.8 162.6,329.7 163.3,328.3 163.9,330.9 164.6,329.2 165.2,330.7 165.8,333.5 166.5,331.0 167.2,334.6 167.8,334.0 168.4,335.3 169.1,338.7 169.7,340.4 170.3,337.8 171.0,337.9 171.7,334.3 172.3,334.0 173.0,338.8 173.6,337.5 174.3,341.7 174.9,339.9 175.6,334.6 176.2,334.0 176.8,333.9 177.5,328.4 178.2,330.2 178.8,326.2 179.4,328.3 180.1,334.0 180.7,336.2 181.2,333.7 181.8,337.2 182.3,333.3 182.9,336.5 183.4,334.4 184.0,336.5 184.6,340.4 185.3,339.6 185.9,343.0 186.5,343.5 187.2,340.0 187.8,340.4 188.5,343.8 189.1,341.7 189.8,346.2 190.4,345.6 191.0,345.3 191.7,349.2 192.3,345.9 193.0,350.0 193.6,349.5 194.1,350.3 194.6,353.9 195.2,357.2 195.9,354.7 196.5,359.0 197.2,358.2 197.8,360.3 198.4,362.5 199.1,360.9 199.7,364.5 200.4,362.9 201.0,366.1 201.6,365.7 202.3,361.5 202.9,363.2 203.6,358.9 204.2,359.7 204.8,363.5 205.5,362.6 206.2,367.4 206.8,368.1 207.4,367.1 208.0,370.7 208.5,368.8 209.1,371.2 209.7,369.6 210.3,373.6 210.8,370.5 211.4,373.2 212.0,373.2 212.6,371.9 213.1,376.0 213.7,372.8 214.2,376.2 214.8,374.2 215.3,377.1 215.9,377.1 216.5,374.9 217.0,376.9 217.6,374.6 218.2,376.8 218.7,373.7 219.3,375.1 219.8,371.2 220.4,372.6 221.0,381.0 221.7,379.3 222.3,375.0 223.0,373.2 223.7,379.1 224.3,381.0 224.9,380.1 225.5,383.3 226.0,381.5 226.6,383.4 227.2,381.9 227.8,384.5 228.4,382.7 228.9,385.7 229.5,383.4 230.1,384.2 230.8,385.1 231.4,382.1 232.0,382.7 232.7,381.0 233.3,380.3 233.9,384.1 234.4,383.8 235.0,387.3 235.6,385.7 236.2,388.6 236.8,387.0 237.4,391.1 237.9,391.1 238.5,393.8 239.1,393.9 239.7,392.4 240.3,395.6 240.8,393.3 241.4,394.9 242.0,393.4 242.6,395.1 243.1,392.1 243.7,395.6 244.3,393.9 244.9,392.3 245.5,396.5 246.0,393.2 246.6,397.2 247.2,394.7 247.8,397.2 248.4,395.2 249.0,398.2 249.5,397.0 250.1,399.2 250.7,398.4 251.4,399.2 252.0,404.7 252.7,406.8 253.3,402.8 254.0,401.7 254.6,403.6 255.3,401.9 255.9,404.7 256.6,402.6 257.2,405.5 257.9,408.0 258.5,407.2 259.1,411.6 259.8,412.0 260.4,408.7 261.1,407.8 261.7,403.6 262.4,407.0 263.0,412.3 263.7,415.9 264.3,417.3 264.9,420.5 265.6,421.1 266.2,423.6 266.9,423.0 267.5,418.0 268.2,417.2 268.8,419.4 269.4,415.2 270.0,417.4 270.6,421.0 271.3,419.5 272.0,423.0 272.6,423.2 273.2,423.9 273.9,427.9 274.6,426.5 275.2,429.7 275.8,429.6 276.5,424.1 277.1,423.9 277.7,426.2 278.4,425.6 279.0,429.5 279.7,429.1 280.3,431.0 280.9,432.5 281.6,431.8 282.2,434.6 282.9,434.9 283.5,437.0 284.2,442.6 284.8,441.8 285.5,438.6 286.1,437.5 286.8,439.8 287.4,439.7 288.1,442.9 288.7,442.3 289.4,445.2 290.0,449.1 290.7,449.4 291.3,453.0 291.9,454.8 292.6,452.7 293.2,455.8 293.9,451.8 294.5,454.2 295.1,460.8 295.8,463.9 296.4,463.8 297.1,467.4 297.8,465.7 298.4,468.8 299.1,468.1 299.7,470.4 300.3,469.6 301.0,465.3 301.6,463.9 302.3,465.4 302.9,463.8 303.6,466.5 304.2,467.1 304.7,464.2 305.3,467.1 305.9,463.0 306.4,465.0 307.0,461.4 307.5,464.2 308.1,462.6 308.7,463.7 309.4,467.3 310.0,467.2 310.6,465.7 311.3,466.4 311.9,462.7 312.6,465.4 313.2,462.4 313.9,462.0 314.6,463.9 315.2,462.1 315.9,463.9 316.5,464.5 317.1,461.6 317.8,463.2 318.4,461.0 318.9,460.7 319.5,462.5 320.0,460.7 320.6,464.2 321.1,461.8 321.7,462.6 322.3,465.4 323.0,463.8 323.6,467.0 324.2,465.4 324.9,468.8 325.5,468.5 326.1,466.9 326.7,469.9 327.2,468.2 327.8,469.7 328.4,468.6 329.0,471.2 329.5,467.9 330.1,471.7 330.7,469.7 331.4,467.7 332.0,469.6 332.6,467.2 333.3,468.5 333.9,471.3 334.6,468.7 335.2,472.7 335.9,471.3 336.6,474.6 337.2,474.3 337.8,473.6 338.5,477.5 339.1,476.4 339.8,480.2 340.4,480.1 341.0,474.1 341.7,472.3 342.4,475.8 343.0,473.5 343.6,479.1 344.3,478.8 344.9,477.8 345.6,479.6 346.2,477.5 346.9,479.7 347.5,478.8 348.1,478.5 348.8,482.2 349.4,479.3 350.1,483.7 350.8,481.3 351.4,484.0 352.0,486.7 352.7,487.2 353.3,490.4 353.9,491.3 354.6,487.1 355.2,486.5 355.8,487.9 356.3,486.3 356.9,487.6 357.4,485.2 358.0,489.6 358.5,486.0 359.1,487.8 359.8,489.3 360.4,488.6 361.1,491.2 361.7,489.6 362.4,493.8 363.0,493.0 363.6,492.4 364.2,495.5 364.7,494.1 365.3,496.7 365.9,493.8 366.5,498.2 367.0,496.4 367.6,499.0 368.2,498.2 368.8,497.4 369.5,500.8 370.1,498.7 370.7,502.9 371.4,500.8 372.0,503.3 372.6,504.7 373.2,501.6 373.7,505.8 374.3,502.7 374.9,505.1 375.5,503.4 376.0,505.3 376.6,503.6 377.2,505.3 377.8,508.2 378.5,506.3 379.1,509.3 379.8,507.6 380.4,509.8 380.9,510.7 381.5,507.7 382.0,511.2 382.6,507.3 383.1,510.0 383.7,508.5 384.3,506.8 384.8,510.4 385.4,508.0 386.0,511.8 386.5,508.9 387.1,513.0 387.7,510.7 388.2,513.5 388.8,512.4 389.4,511.0 389.9,513.6 390.5,509.6 391.0,513.1 391.6,510.9 392.1,511.1 392.7,513.6 393.3,512.0 393.8,516.9 394.4,514.6 395.0,517.5 395.6,518.4 396.1,515.1 396.6,516.8 397.2,513.7 397.8,513.5 398.4,518.2 399.1,516.2 399.7,521.8 400.3,521.3 400.9,521.0 401.6,523.8 402.2,520.5 402.9,523.4 403.6,521.2 404.2,523.3 404.9,526.0 405.5,525.1 406.1,529.0 406.8,528.4 407.5,525.2 408.1,523.3 408.8,525.9 409.4,524.3 410.1,527.6 410.7,527.8 411.3,526.5 412.0,529.3 412.6,527.4 413.3,530.4 413.9,528.4 414.5,530.6 415.2,534.4 415.8,536.8 416.4,535.7 417.1,539.1 417.8,535.9 418.4,539.4 419.1,536.6 419.7,538.1 420.3,540.7 420.8,538.9 421.4,541.8 421.9,540.5 422.5,543.2 423.0,543.1 423.6,544.6 424.2,547.3 424.9,545.8 425.6,549.3 426.2,548.5 426.8,547.3 427.5,550.9 428.1,548.8 428.7,552.9 429.4,549.7 430.0,552.3 430.7,551.9 431.3,549.4 432.0,549.1 432.6,552.1 433.3,551.7 433.9,554.9 434.5,555.4 435.2,553.5 435.9,554.9 436.5,553.0 437.1,551.2 437.8,554.7 438.5,552.6 439.1,554.3 439.8,555.2 440.4,552.7 441.1,555.7 441.7,553.6 442.3,552.8 442.8,555.5 443.4,552.7 444.0,555.6 444.5,552.3 445.1,555.0 445.7,552.7 446.2,555.7 446.8,554.9 447.5,555.5 448.1,561.1 448.8,561.4 449.4,558.5 450.1,559.9 450.7,557.5 451.3,555.8 451.9,558.4 452.5,556.5 453.1,559.3 453.7,557.0 454.2,560.5 454.8,556.9 455.4,560.4 456.0,558.1 456.6,560.1 457.2,559.4 457.8,558.1 458.3,560.1 458.9,558.3 459.5,561.3 460.0,558.4 460.6,560.9 461.2,557.8 461.7,559.9 462.3,558.8 463.0,558.7 463.6,561.1 464.3,561.4 464.9,559.9 465.5,561.7 466.0,559.5 466.6,561.4 467.2,558.2 467.8,562.0 468.4,558.5 469.0,561.1 469.5,557.2 470.1,560.1 470.7,558.8 471.3,558.9 471.9,561.1 472.4,560.2 473.0,563.3 473.6,561.3 474.2,564.1 474.7,561.9 475.3,565.3 475.9,565.2 476.5,563.5 477.1,567.2 477.7,564.7 478.3,567.9 478.9,565.2 479.5,568.5 480.1,564.6 480.7,568.2 481.3,567.1 481.9,565.7 482.4,569.7 483.0,566.1 483.6,569.8 484.1,566.3 484.7,570.6 485.2,567.0 485.8,569.0 486.4,571.3 487.1,568.3 487.8,570.9 488.4,567.8 489.1,570.7 489.7,569.7 490.4,574.2 491.0,573.1 491.5,574.9 492.1,572.1 492.6,575.3 493.2,572.9 493.8,576.2 494.3,573.4 494.9,574.2 495.5,576.5 496.2,574.0 496.8,575.3 497.4,574.0 498.1,576.4 498.7,575.5 499.2,574.2 499.8,579.0 500.4,576.0 500.9,579.7 501.4,577.9 502.0,580.0 502.6,580.9 503.3,578.1 503.9,581.1 504.6,579.1 505.2,580.0 505.8,582.5 506.5,581.1 507.1,583.7 507.8,581.5 508.4,584.5 509.0,585.9 509.7,585.5 510.4,587.8 511.0,587.8 511.6,587.1 512.2,589.4 512.7,587.5 513.3,589.6 513.9,587.9 514.5,589.8 515.1,587.6 515.6,590.4 516.2,588.4 516.8,589.7 517.5,593.7 518.1,594.2 518.8,592.9 519.4,593.3 520.1,589.9 520.7,591.0 521.3,592.2 521.9,589.2 522.4,591.7 523.0,589.6 523.6,592.9 524.2,590.0 524.7,592.8 525.3,589.5 525.9,591.0 526.5,592.5 527.0,589.6 527.6,593.3 528.1,591.3 528.7,594.5 529.3,592.4 529.8,595.7 530.4,594.2 531.0,592.5 531.7,595.2 532.3,592.2 533.0,595.5 533.6,590.9 534.3,592.9 534.9,595.9 535.6,593.7 536.2,597.2 536.9,595.7 537.5,598.1 538.1,598.7 538.8,597.7 539.5,600.6 540.1,597.9 540.8,600.8 541.4,598.8 542.0,596.9 542.7,600.4 543.3,597.6 543.9,598.9 544.6,595.9 545.2,597.5 545.9,599.2 546.5,599.4 547.1,602.4 547.8,602.6 548.4,601.9 549.0,603.5 549.5,601.2 550.1,603.5 550.7,600.8 551.3,604.6 551.8,602.6 552.4,605.2 553.0,603.3 553.6,602.7 554.2,605.2 554.7,602.7 555.3,605.1 555.9,603.4 556.5,605.6 557.0,604.5 557.6,607.7 558.2,605.9 558.8,604.4 559.3,608.1 559.9,605.5 560.5,609.5 561.0,607.2 561.6,609.6 562.1,608.0 562.7,609.1 563.3,609.7 564.0,608.5 564.6,609.9 565.3,608.6 565.9,609.1 566.5,610.4 567.1,608.9 567.6,611.9 568.2,608.9 568.8,613.3 569.4,610.0 569.9,613.5 570.5,610.5 571.1,613.0 571.8,613.1 572.4,611.1 573.1,612.9 573.7,610.4 574.3,609.0 574.9,611.6 575.4,609.8 576.0,612.1 576.6,610.1 577.2,612.6 577.8,610.5 578.4,613.6 578.9,610.1 579.5,613.6 580.1,612.3 580.7,610.9 581.3,613.1 581.9,610.3 582.4,614.1 583.0,611.0 583.6,613.5 584.2,610.0 584.8,613.2 585.4,611.1 585.9,612.9 586.5,610.6 587.1,611.3 587.7,612.6 588.2,610.8 588.8,614.3 589.4,611.7 589.9,615.5 590.5,612.5 591.0,616.0 591.6,615.2 592.3,615.1 592.9,617.8 593.6,614.5 594.2,618.6 594.9,617.1 595.5,615.2 596.2,616.8 596.8,615.2 597.5,616.2 598.1,615.2 598.7,614.1 599.2,617.6 599.8,615.9 600.4,619.3 600.9,615.5 601.5,620.1 602.0,617.4 602.6,619.1 603.2,619.4 603.9,617.0 604.5,619.0 605.2,614.8 605.9,616.8 606.5,615.2 607.1,613.9 607.6,618.1 608.2,616.2 608.8,619.3 609.3,617.1 609.9,620.8 610.4,618.7 611.0,621.0 611.6,623.1 612.3,622.2 613.0,626.3 613.6,626.8 614.2,626.1 614.9,630.2 615.5,629.7 616.2,633.4 616.9,632.2 617.5,634.6 618.1,635.7 618.8,632.1 619.4,634.7 620.0,631.9 620.7,635.2 621.3,633.3 621.9,631.2 622.5,634.0 623.0,631.2 623.6,633.2 624.2,630.6 624.8,632.5 625.3,630.5 625.9,632.3 626.5,630.7 627.1,629.4 627.8,630.9 628.4,627.7 629.1,629.6 629.7,628.1 630.4,626.8 631.0,628.6 631.7,624.6 632.3,626.9 633.0,625.5 633.6,624.3 634.3,627.8 634.9,624.5 635.5,628.5 636.2,626.2 636.8,627.5 637.3,628.1 637.9,625.2 638.5,627.8 639.0,626.2 639.5,628.4 640.1,626.2 640.7,626.5 641.4,629.4 642.0,628.6 642.6,630.7 643.3,630.7 643.9,627.2 644.6,629.0 645.2,625.9 645.9,626.2 646.5,627.7 647.2,624.9 647.8,627.6 648.4,626.0 649.1,628.5 649.7,628.1 650.4,627.7 651.0,630.3 651.7,628.0 652.3,630.0 653.0,628.3 653.6,630.1 654.2,632.3 654.8,628.9 655.3,632.0 655.9,629.0 656.5,633.1 657.1,630.5 657.7,632.4 658.2,629.5 658.8,633.9 659.4,632.0" fill="none" stroke="#000" stroke-width="1.7" stroke-linejoin="round" stroke-linecap="round"/>
<text x="38.27" y="948.20" font-size="24.80" textLength="13.26" lengthAdjust="spacingAndGlyphs" stroke-width="0.3">4</text>
<text x="53.24" y="948.20" font-size="24.80" textLength="14.52" lengthAdjust="spacingAndGlyphs" stroke-width="0.3">0</text>
<text x="67.99" y="948.20" font-size="24.80" textLength="13.93" lengthAdjust="spacingAndGlyphs" stroke-width="0.3">0</text>
<text x="82.06" y="948.20" font-size="24.80" textLength="14.29" lengthAdjust="spacingAndGlyphs" stroke-width="0.3">0</text>
<text x="335.77" y="948.20" font-size="24.80" textLength="15.25" lengthAdjust="spacingAndGlyphs" stroke-width="0.3">5</text>
<text x="351.59" y="948.20" font-size="24.80" textLength="13.93" lengthAdjust="spacingAndGlyphs" stroke-width="0.3">0</text>
<text x="365.74" y="948.20" font-size="24.80" textLength="14.52" lengthAdjust="spacingAndGlyphs" stroke-width="0.3">0</text>
<text x="379.84" y="948.20" font-size="24.80" textLength="14.52" lengthAdjust="spacingAndGlyphs" stroke-width="0.3">0</text>
<text x="632.51" y="948.20" font-size="24.80" textLength="13.60" lengthAdjust="spacingAndGlyphs" stroke-width="0.3">6</text>
<text x="647.09" y="948.20" font-size="24.80" textLength="13.93" lengthAdjust="spacingAndGlyphs" stroke-width="0.3">0</text>
<text x="661.79" y="948.20" font-size="24.80" textLength="13.93" lengthAdjust="spacingAndGlyphs" stroke-width="0.3">0</text>
<text x="675.89" y="948.20" font-size="24.80" textLength="13.93" lengthAdjust="spacingAndGlyphs" stroke-width="0.3">0</text>
<text x="929.16" y="948.20" font-size="24.80" textLength="13.88" lengthAdjust="spacingAndGlyphs" stroke-width="0.3">7</text>
<text x="944.60" y="948.20" font-size="24.80" textLength="13.81" lengthAdjust="spacingAndGlyphs" stroke-width="0.3">0</text>
<text x="959.24" y="948.20" font-size="24.80" textLength="13.21" lengthAdjust="spacingAndGlyphs" stroke-width="0.3">0</text>
<text x="973.44" y="948.20" font-size="24.80" textLength="13.21" lengthAdjust="spacingAndGlyphs" stroke-width="0.3">0</text>
<text x="447.00" y="981.00" font-size="23.80" textLength="16.17" lengthAdjust="spacingAndGlyphs" stroke-width="0.3">W</text>
<text x="463.84" y="981.00" font-size="23.80" textLength="12.86" lengthAdjust="spacingAndGlyphs" stroke-width="0.3">a</text>
<text x="477.20" y="981.00" font-size="23.80" textLength="12.70" lengthAdjust="spacingAndGlyphs" stroke-width="0.3">v</text>
<text x="490.85" y="981.00" font-size="23.80" textLength="11.64" lengthAdjust="spacingAndGlyphs" stroke-width="0.3">e</text>
<text x="502.95" y="981.00" font-size="23.80" textLength="9.03" lengthAdjust="spacingAndGlyphs" stroke-width="0.3">l</text>
<text x="512.35" y="981.00" font-size="23.80" textLength="11.64" lengthAdjust="spacingAndGlyphs" stroke-width="0.3">e</text>
<text x="524.07" y="981.00" font-size="23.80" textLength="13.26" lengthAdjust="spacingAndGlyphs" stroke-width="0.3">n</text>
<text x="538.10" y="981.00" font-size="23.80" textLength="17.50" lengthAdjust="spacingAndGlyphs" stroke-width="0.3">g</text>
<text x="556.15" y="981.00" font-size="23.80" textLength="9.73" lengthAdjust="spacingAndGlyphs" stroke-width="0.3">t</text>
<text x="565.91" y="981.00" font-size="23.80" textLength="14.48" lengthAdjust="spacingAndGlyphs" stroke-width="0.3">h</text>
<text x="580.92" y="981.00" font-size="23.80" textLength="13.43" lengthAdjust="spacingAndGlyphs" stroke-width="0.3">s</text>
<text x="607.00" y="981.00" font-size="23.80" textLength="8.33" lengthAdjust="spacingAndGlyphs" stroke-width="0.3">(</text>
<text x="615.89" y="981.00" font-size="23.80" textLength="14.96" lengthAdjust="spacingAndGlyphs" stroke-width="0.3">Å</text>
<text x="630.96" y="981.00" font-size="23.80" textLength="8.20" lengthAdjust="spacingAndGlyphs" stroke-width="0.3">)</text>
<text x="660.58" y="79.20" font-size="24.20" textLength="18.20" lengthAdjust="spacingAndGlyphs" stroke-width="0.4">B</text>
<text x="678.00" y="79.20" font-size="24.20" textLength="12.44" lengthAdjust="spacingAndGlyphs" stroke-width="0.4">d</text>
<text x="692.20" y="79.20" font-size="24.20" textLength="15.84" lengthAdjust="spacingAndGlyphs" stroke-width="0.4">=</text>
<text x="710.67" y="79.20" font-size="24.20" textLength="13.26" lengthAdjust="spacingAndGlyphs" stroke-width="0.4">4</text>
<text x="725.18" y="79.20" font-size="24.20" textLength="13.50" lengthAdjust="spacingAndGlyphs" stroke-width="0.4">5</text>
<text x="738.84" y="79.20" font-size="24.20" textLength="14.52" lengthAdjust="spacingAndGlyphs" stroke-width="0.4">0</text>
<text x="765.35" y="79.20" font-size="24.20" textLength="19.28" lengthAdjust="spacingAndGlyphs" stroke-width="0.4">M</text>
<text x="783.96" y="79.20" font-size="24.20" textLength="15.22" lengthAdjust="spacingAndGlyphs" stroke-width="0.4">G</text>
<text x="800.43" y="79.20" font-size="24.20" textLength="6.67" lengthAdjust="spacingAndGlyphs" stroke-width="0.4">,</text>
<text x="819.20" y="79.20" font-size="24.20" textLength="11.80" lengthAdjust="spacingAndGlyphs" stroke-width="0.4">z</text>
<text x="831.71" y="79.20" font-size="24.20" textLength="16.80" lengthAdjust="spacingAndGlyphs" stroke-width="0.4">=</text>
<text x="862.85" y="79.20" font-size="24.20" textLength="16.32" lengthAdjust="spacingAndGlyphs" stroke-width="0.4">−</text>
<text x="880.61" y="79.20" font-size="24.20" textLength="14.88" lengthAdjust="spacingAndGlyphs" stroke-width="0.4">0</text>
<text x="894.87" y="79.20" font-size="24.20" textLength="7.95" lengthAdjust="spacingAndGlyphs" stroke-width="0.4">.</text>
<text x="902.22" y="79.20" font-size="24.20" textLength="14.76" lengthAdjust="spacingAndGlyphs" stroke-width="0.4">3</text>
<text x="916.51" y="79.20" font-size="24.20" textLength="14.12" lengthAdjust="spacingAndGlyphs" stroke-width="0.4">5</text>
<text x="784.98" y="509.60" font-size="24.50" textLength="7.18" lengthAdjust="spacingAndGlyphs" stroke-width="0.3">i</text>
<text x="793.75" y="509.60" font-size="24.50" textLength="16.32" lengthAdjust="spacingAndGlyphs" stroke-width="0.3">=</text>
<text x="811.40" y="509.60" font-size="24.50" textLength="14.02" lengthAdjust="spacingAndGlyphs" stroke-width="0.3">3</text>
<text x="825.70" y="509.60" font-size="24.50" textLength="13.69" lengthAdjust="spacingAndGlyphs" stroke-width="0.3">0</text>
<text x="841.47" y="509.60" font-size="24.50" textLength="9.87" lengthAdjust="spacingAndGlyphs" stroke-width="0.3">°</text>
<text x="785.49" y="824.60" font-size="24.50" textLength="7.07" lengthAdjust="spacingAndGlyphs" stroke-width="0.3">i</text>
<text x="794.20" y="824.60" font-size="24.50" textLength="15.84" lengthAdjust="spacingAndGlyphs" stroke-width="0.3">=</text>
<text x="812.14" y="824.60" font-size="24.50" textLength="13.26" lengthAdjust="spacingAndGlyphs" stroke-width="0.3">6</text>
<text x="825.70" y="824.60" font-size="24.50" textLength="13.69" lengthAdjust="spacingAndGlyphs" stroke-width="0.3">0</text>
<text x="841.88" y="824.60" font-size="24.50" textLength="9.73" lengthAdjust="spacingAndGlyphs" stroke-width="0.3">°</text>
<text x="636.74" y="591.10" font-size="25.20" textLength="14.39" lengthAdjust="spacingAndGlyphs" stroke-width="0.45">C</text>
<text x="651.47" y="591.10" font-size="25.20" textLength="13.18" lengthAdjust="spacingAndGlyphs" stroke-width="0.45">T</text>
<text x="665.41" y="591.10" font-size="25.20" textLength="7.43" lengthAdjust="spacingAndGlyphs" stroke-width="0.45">I</text>
<text x="673.38" y="591.10" font-size="25.20" textLength="14.90" lengthAdjust="spacingAndGlyphs" stroke-width="0.45">O</text>
<text x="784.90" y="699.80" font-size="25.00" textLength="14.13" lengthAdjust="spacingAndGlyphs" stroke-width="0.45">A</text>
<text x="799.91" y="699.80" font-size="25.00" textLength="13.62" lengthAdjust="spacingAndGlyphs" stroke-width="0.45">A</text>
<text x="813.54" y="699.80" font-size="25.00" textLength="13.93" lengthAdjust="spacingAndGlyphs" stroke-width="0.45">T</text>
<text transform="rotate(-90)" x="-491.34" y="24.4" font-size="23.62" textLength="51.64" lengthAdjust="spacingAndGlyphs" stroke-width="0.3">Flux</text>
</svg></body></html>
